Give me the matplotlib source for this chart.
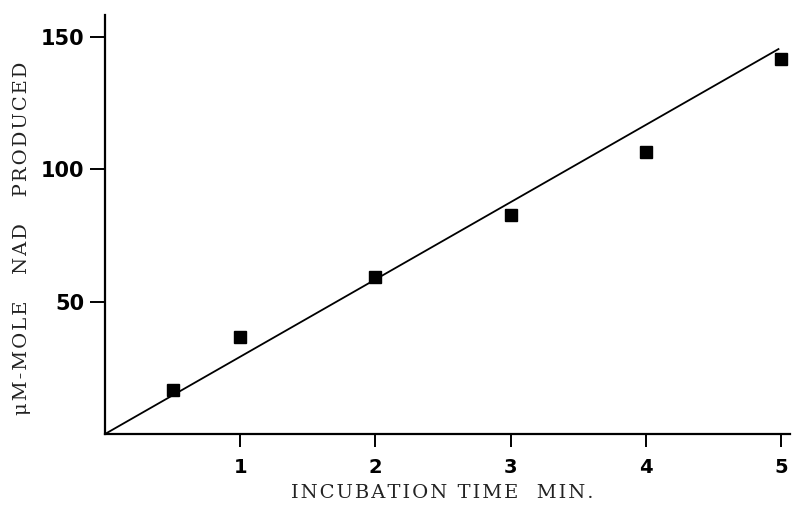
#!/usr/bin/env python3

import numpy as np
import matplotlib
matplotlib.use("Agg")
import matplotlib.pyplot as plt

# incubation time (min) vs umole NAD produced
t = [0.5, 1, 2, 3, 4, 5]
nad = [16.8, 36.8, 59.4, 82.8, 106.6, 141.7]

# fitted line drawn through origin
fit_t = [0.0, 4.98]
fit_nad = [0.0, 145.5]

xticks = [1, 2, 3, 4, 5]
yticks = [50, 100, 150]

xlabel = "INCUBATION TIME  MIN."
ylabel = "\u03bcM-MOLE   NAD   PRODUCED"


def spaced(s):
    # typewriter-like letter spacing
    return "\u200a".join(s)


fig = plt.figure(figsize=(7.92, 5.07), dpi=100)
ax = fig.add_axes([0.1326, 0.144, 0.865, 0.826])

ax.plot(fit_t, fit_nad, color='black', lw=1.3)
ax.plot(t, nad, 's', color='black', ms=8)

ax.set_xlim(0, 5.066)
ax.set_ylim(0, 158.3)

for s in ['top', 'right']:
    ax.spines[s].set_visible(False)
for s in ['left', 'bottom']:
    ax.spines[s].set_linewidth(1.6)

ax.set_xticks(xticks)
ax.set_yticks(yticks)
ax.set_xticklabels([str(v) for v in xticks], fontsize=14, fontweight='bold', family='DejaVu Sans')
ax.set_yticklabels([str(v) for v in yticks], fontsize=15, fontweight='bold', family='DejaVu Sans')
ax.tick_params(axis='x', direction='out', length=9, width=1.4, pad=8)
ax.tick_params(axis='y', direction='out', length=11, width=1.4, pad=4)

fam = ['DejaVu Serif', 'DejaVu Sans']
fig.text(0.559, 0.028, spaced(xlabel), ha='center', va='center',
         fontsize=14, family=fam, color='#222222')
fig.text(0.028, 0.529, spaced(ylabel), ha='center', va='center',
         rotation=90, fontsize=14, family=fam, color='#222222')

fig.savefig("out.png", dpi=100)
